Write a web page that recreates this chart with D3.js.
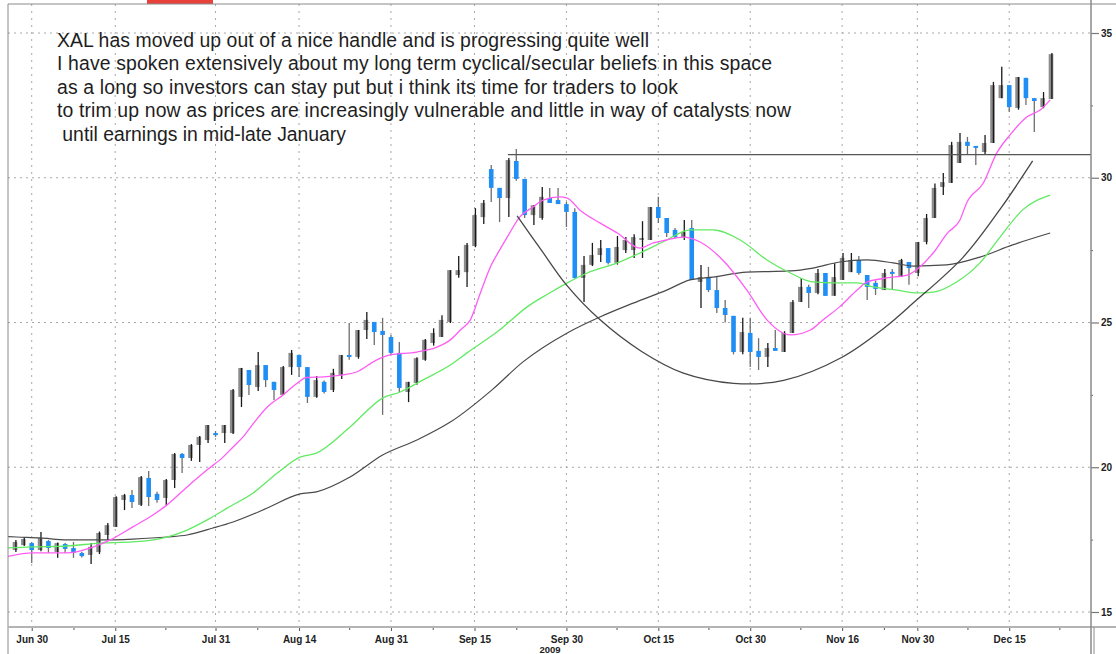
<!DOCTYPE html>
<html>
<head>
<meta charset="utf-8">
<script src="https://cdn.jsdelivr.net/npm/d3@7"></script>
<style>
  body { margin: 0; background: #fff; }
  svg { display: block; }
</style>
</head>
<body>
<div id="chart"></div>
<script>
// XAL daily candles, Jun 26 - Dec 22 2009 (index = trading day)
var opens = [17.14,17.31,17.38,17.14,17.45,17.07,17.35,17.21,17.04,16.97,
  17.07,17.66,17.94,18.87,19.04,18.70,19.63,19.08,18.94,19.56,
  20.46,20.32,20.77,20.94,21.18,21.18,21.18,22.43,23.36,22.77,
  23.53,22.95,22.50,23.46,23.88,23.46,22.43,22.95,22.67,23.19,
  23.88,23.81,24.74,25.02,24.71,24.50,23.95,22.60,22.91,23.71,
  24.29,24.50,25.02,26.64,26.74,27.64,28.64,30.30,29.65,29.30,
  30.58,29.96,28.71,28.61,29.30,29.23,29.09,28.82,26.54,26.99,
  27.33,27.57,27.06,27.50,27.50,27.85,27.85,28.99,28.61,28.20,
  27.95,28.26,26.40,26.57,26.12,25.50,25.23,23.98,24.64,24.02,
  23.81,24.12,23.98,24.64,25.71,26.23,26.02,26.71,25.92,26.47,
  26.74,27.16,26.64,26.37,26.12,26.75,26.57,27.09,26.71,27.78,
  28.61,29.68,29.82,30.51,31.24,31.10,30.89,31.20,32.75,33.20,
  32.41,33.45,32.75,32.44,32.72];
var highs = [17.49,17.59,17.42,17.76,17.49,17.40,17.38,17.42,17.08,17.38,
  17.78,18.07,19.00,19.08,19.21,19.70,19.87,19.15,19.59,20.49,
  20.49,20.80,21.08,21.46,21.25,21.46,22.70,23.43,23.36,23.98,
  23.53,22.95,23.50,24.05,23.88,23.46,23.15,23.00,23.40,23.88,
  24.98,24.74,25.36,25.02,25.16,24.57,24.33,22.95,23.80,24.43,
  24.80,25.25,26.81,27.30,27.75,28.95,29.23,30.44,29.65,30.68,
  30.99,29.96,29.05,29.68,29.65,29.65,29.16,28.95,27.30,27.75,
  27.85,27.57,27.99,27.95,28.05,28.50,28.99,29.34,28.61,28.26,
  28.54,28.54,26.99,26.92,26.57,25.78,25.23,25.16,25.16,24.46,
  24.29,24.74,24.70,25.78,26.54,26.30,26.85,26.71,27.05,27.40,
  27.40,27.30,26.64,26.45,26.85,26.85,27.20,27.09,27.78,28.75,
  29.80,30.16,31.24,31.55,31.41,31.10,31.48,33.31,33.83,33.20,
  33.48,33.45,32.75,32.96,34.31];
var lows = [17.07,17.28,16.69,17.10,17.04,16.87,17.04,16.87,16.88,16.66,
  17.00,17.49,17.94,18.52,18.59,18.66,18.66,18.77,18.70,19.28,
  19.80,20.22,20.18,20.84,21.05,20.84,21.15,22.08,22.50,22.63,
  22.77,22.32,22.50,23.19,23.12,22.22,22.40,22.55,22.60,23.05,
  23.71,23.75,24.43,24.22,21.81,23.88,22.60,22.25,22.85,23.68,
  24.20,24.50,24.98,26.55,26.23,27.60,28.40,29.16,28.47,28.64,
  29.90,28.61,28.37,28.55,29.13,29.09,28.30,26.50,25.71,26.95,
  27.09,27.00,27.00,27.40,27.23,27.23,27.85,28.44,27.95,27.90,
  27.85,26.47,25.50,26.05,25.33,25.00,23.90,23.90,23.46,23.36,
  23.46,24.02,23.98,24.64,25.71,25.50,25.98,25.92,25.92,26.47,
  26.74,26.65,25.78,25.95,26.12,26.16,26.57,26.30,26.60,27.70,
  28.61,29.40,29.82,30.51,30.79,30.44,30.79,31.20,32.75,32.27,
  32.35,32.51,31.58,32.40,32.72];
var closes = [17.42,17.52,17.14,17.56,17.21,17.38,17.18,17.04,16.93,17.25,
  17.73,18.00,18.97,19.04,18.80,19.66,18.97,18.87,19.56,20.46,
  20.32,20.77,21.05,21.46,21.11,21.46,22.67,23.43,22.84,23.53,
  23.01,22.67,23.46,23.95,23.46,22.43,23.01,22.60,23.26,23.88,
  23.81,24.74,25.09,24.67,24.57,23.95,22.74,22.95,23.77,24.40,
  24.64,25.09,26.81,26.81,27.68,28.71,29.13,29.65,29.30,30.61,
  29.96,28.71,29.05,29.34,29.13,29.09,28.82,26.54,26.99,27.33,
  27.57,27.06,27.61,27.85,27.95,27.92,28.99,28.61,28.09,27.95,
  28.13,26.47,26.57,26.12,25.50,25.26,23.98,24.67,23.98,23.81,
  24.12,24.02,24.64,25.71,26.23,26.02,26.71,25.92,26.57,27.23,
  27.16,26.71,26.23,26.16,26.71,26.68,27.16,26.88,27.78,28.61,
  29.65,29.85,31.13,31.24,31.10,31.03,31.20,33.20,33.20,32.44,
  33.48,32.75,32.65,32.75,34.27];

// moving averages: [trading day, price]
var maFast = [[-1.5,16.88],[2.2,17.04],[6.2,17.04],[9.0,17.21],[11.4,17.49],[14.1,17.94],
  [16.5,18.35],[18.2,18.70],[20.6,19.32],[23.0,19.91],[24.9,20.35],[26.1,20.70],
  [27.3,21.05],[28.5,21.50],[30.2,22.08],[32.1,22.50],[33.8,22.91],[34.9,23.10],
  [36.9,23.12],[39.3,23.19],[40.9,23.29],[43.3,23.71],[44.9,23.88],[48.1,23.98],
  [50.5,24.15],[52.1,24.40],[53.3,24.74],[54.5,25.09],[55.7,26.02],[56.9,26.92],
  [58.0,27.50],[59.2,28.09],[60.4,28.64],[62.0,28.99],[63.2,29.23],[65.2,29.34],
  [66.1,29.30],[67.6,28.89],[70.0,28.44],[72.1,28.09],[74.8,27.57],[76.4,27.75],
  [78.0,27.85],[80.0,27.95],[82.0,27.78],[84.7,27.16],[87.6,26.12],[90.0,25.09],
  [92.8,24.57],[95.2,24.74],[96.7,25.09],[98.7,25.54],[100.8,26.12],[102.0,26.40],
  [104.4,26.54],[106.8,26.64],[108.3,26.92],[109.9,27.40],[111.6,28.09],[113.1,28.54],
  [113.9,29.13],[115.9,29.82],[117.5,30.85],[119.1,31.48],[121.1,32.10],[122.7,32.34],
  [123.9,32.69]];
var maMid = [[-1.5,17.21],[2.2,17.25],[6.2,17.28],[10.2,17.38],[14.1,17.42],[18.2,17.59],
  [20.6,17.83],[23.0,18.18],[25.4,18.59],[28.5,19.11],[31.4,19.80],[34.1,20.35],
  [36.1,20.49],[40.1,21.39],[44.0,22.39],[46.1,22.60],[48.8,23.01],[52.1,23.53],
  [54.1,23.95],[58.0,24.74],[61.3,25.54],[64.0,26.02],[66.1,26.37],[68.5,26.71],
  [72.1,27.06],[74.8,27.40],[78.0,27.85],[80.8,28.20],[83.5,28.20],[86.8,27.85],
  [90.0,27.16],[92.8,26.71],[95.5,26.40],[97.9,26.37],[100.8,26.37],[102.7,26.23],
  [105.6,26.12],[108.0,26.02],[109.9,26.05],[112.7,26.40],[115.5,27.06],[117.9,27.95],
  [120.6,28.89],[123.9,29.40]];
var maSlow = [[-1.8,17.62],[0.2,17.59],[3.0,17.56],[6.2,17.49],[10.2,17.49],[14.1,17.52],
  [18.2,17.59],[20.6,17.66],[23.7,17.90],[26.1,18.11],[30.2,18.59],[34.1,19.08],
  [36.1,19.15],[40.1,19.66],[44.0,20.42],[48.1,20.94],[52.1,21.56],[57.2,22.70],
  [60.8,23.64],[66.1,24.64],[70.0,25.19],[74.0,25.67],[78.0,26.12],[80.8,26.47],
  [83.5,26.57],[87.6,26.74],[92.8,26.78],[95.5,26.88],[98.7,27.09],[102.0,27.16],
  [105.1,27.06],[107.5,26.95],[111.5,26.99],[115.5,27.26],[119.4,27.68],[123.9,28.09]];

// hand drawn cup and the handle's resistance level
var cup = [[60.1,28.68],[63,27.5],[66,26.3],[70,25.1],[75,24.0],[80,23.25],[86,22.9],
  [92,23.0],[99,23.8],[104,24.8],[107.5,25.67],[113.5,27.26],[118,28.95],[121.8,30.58]];
var resistance = {from: 59, price: 30.8};

var dateTicks = [2, 12, 24, 34, 45, 55, 66, 77, 88, 99, 108, 119];
var dateLabels = ["Jun 30", "Jul 15", "Jul 31", "Aug 14", "Aug 31", "Sep 15",
  "Sep 30", "Oct 15", "Oct 30", "Nov 16", "Nov 30", "Dec 15"];
var minorTicks = [7, 18, 29, 40, 50, 60, 72, 83, 94, 104, 114, 125];
var priceTicks = [15, 20, 25, 30, 35];
var minorPrice = [17.5, 22.5, 27.5, 32.5];

var noteLines = [
  "XAL has moved up out of a nice handle and is progressing quite well",
  "I have spoken extensively about my long term cyclical/secular beliefs in this space",
  "as a long so investors can stay put but i think its time for traders to look",
  "to trim up now as prices are increasingly vulnerable and little in way of catalysts now",
  " until earnings in mid-late January"
];

var svgWidth = 1116;
var svgHeight = 654;
var plot = { left: 8, right: 1091, top: 4, bottom: 627 };
// measured line widths of the note text in the original screenshot
var noteWidths = [592, 715, 621, 734, 289];

var svg = d3.select("#chart")
  .append("svg")
  .attr("width", svgWidth)
  .attr("height", svgHeight);

var x = d3.scaleLinear().domain([0, 124]).range([15, 1051]);
var y = d3.scaleLinear().domain([15, 35]).range([612, 33]);

svg.append("defs").append("clipPath")
  .attr("id", "clip")
  .append("rect")
  .attr("x", plot.left)
  .attr("y", plot.top)
  .attr("width", plot.right - plot.left)
  .attr("height", plot.bottom - plot.top);

// red tab at the top edge of the screenshot
svg.append("rect").attr("x", 147).attr("y", 0).attr("width", 66).attr("height", 4).attr("fill", "#e8413c");

// grid
var grid = svg.append("g");
grid.selectAll(".hgrid").data(priceTicks).enter().append("line")
  .attr("x1", plot.left).attr("x2", plot.right)
  .attr("y1", d => y(d)).attr("y2", d => y(d))
  .attr("stroke", "#a8a8a8").attr("stroke-width", 1)
  .attr("stroke-dasharray", "2,4");
grid.selectAll(".vgrid").data(dateTicks).enter().append("line")
  .attr("x1", d => x(d)).attr("x2", d => x(d))
  .attr("y1", plot.top).attr("y2", plot.bottom)
  .attr("stroke", "#a8a8a8").attr("stroke-width", 1)
  .attr("stroke-dasharray", "2,5");

// note text
svg.append("g").selectAll("text").data(noteLines).enter().append("text")
  .attr("x", 57)
  .attr("y", (d, i) => 46.5 + i * 23.6)
  .attr("xml:space", "preserve")
  .attr("textLength", (d, i) => noteWidths[i])
  .attr("lengthAdjust", "spacing")
  .attr("font-family", "Liberation Sans, Arial, sans-serif")
  .attr("font-size", "19.4px")
  .attr("fill", "#1e1e1e")
  .text(d => d);

var candles = opens.map(function(o, i) {
  return { i: i, o: o, h: highs[i], l: lows[i], c: closes[i], up: closes[i] >= o };
});

var chartGroup = svg.append("g").attr("clip-path", "url(#clip)");

// blue (down) wicks sit under the body, dark wicks over gray bodies
chartGroup.selectAll(".wickDown").data(candles.filter(d => !d.up)).enter().append("line")
  .attr("x1", d => x(d.i)).attr("x2", d => x(d.i))
  .attr("y1", d => y(d.h)).attr("y2", d => y(d.l))
  .attr("stroke", "#6e6e6e").attr("stroke-width", 1.3);

chartGroup.selectAll(".body").data(candles).enter().append("rect")
  .attr("x", d => x(d.i) - 2.3)
  .attr("width", 4.6)
  .attr("y", d => y(Math.max(d.o, d.c)))
  .attr("height", d => Math.max(1.6, Math.abs(y(d.o) - y(d.c))))
  .attr("fill", d => d.up ? "#8c8c8c" : "#1f8ef5");

chartGroup.selectAll(".wickUp").data(candles.filter(d => d.up)).enter().append("line")
  .attr("x1", d => x(d.i) + 0.9).attr("x2", d => x(d.i) + 0.9)
  .attr("y1", d => y(d.h)).attr("y2", d => y(d.l))
  .attr("stroke", "#1a1a1a").attr("stroke-width", 1.3);

// moving averages
var maLine = d3.line()
  .x(d => x(d[0]))
  .y(d => y(d[1]))
  .curve(d3.curveMonotoneX);

chartGroup.append("path").datum(maSlow).attr("d", maLine)
  .attr("fill", "none").attr("stroke", "#4a4a4a").attr("stroke-width", 1.2);
chartGroup.append("path").datum(maMid).attr("d", maLine)
  .attr("fill", "none").attr("stroke", "#62ea62").attr("stroke-width", 1.3);
chartGroup.append("path").datum(maFast).attr("d", maLine)
  .attr("fill", "none").attr("stroke", "#ff5cf4").attr("stroke-width", 1.3);

// cup and handle lines
chartGroup.append("path").datum(cup)
  .attr("d", d3.line().x(d => x(d[0])).y(d => y(d[1])).curve(d3.curveCatmullRom))
  .attr("fill", "none").attr("stroke", "#474747").attr("stroke-width", 1.3);

chartGroup.append("line")
  .attr("x1", x(resistance.from)).attr("x2", plot.right)
  .attr("y1", y(resistance.price)).attr("y2", y(resistance.price))
  .attr("stroke", "#555").attr("stroke-width", 1.4);

// frame lines
svg.append("line").attr("x1", plot.left).attr("x2", svgWidth).attr("y1", plot.top).attr("y2", plot.top)
  .attr("stroke", "#8a8a8a").attr("stroke-width", 1);
svg.append("line").attr("x1", plot.left).attr("x2", plot.left).attr("y1", plot.top).attr("y2", svgHeight)
  .attr("stroke", "#8a8a8a").attr("stroke-width", 1);
svg.append("line").attr("x1", plot.left).attr("x2", svgWidth).attr("y1", plot.bottom).attr("y2", plot.bottom)
  .attr("stroke", "#b4b4b4").attr("stroke-width", 2);
svg.append("line").attr("x1", plot.right + 3).attr("x2", plot.right + 3).attr("y1", plot.bottom).attr("y2", svgHeight)
  .attr("stroke", "#8a8a8a").attr("stroke-width", 1);

// bottom axis
var bottomAxis = d3.axisBottom(x)
  .tickValues(dateTicks)
  .tickFormat((d, i) => dateLabels[i])
  .tickSize(3)
  .tickPadding(5);

var xAxis = svg.append("g")
  .attr("transform", `translate(0, ${plot.bottom + 1})`)
  .call(bottomAxis);
xAxis.select(".domain").remove();
xAxis.selectAll("line").attr("stroke", "#555");
xAxis.selectAll("text")
  .attr("font-family", "Liberation Sans, Arial, sans-serif")
  .attr("font-size", "10px")
  .attr("font-weight", "bold")
  .attr("fill", "#222");

var xMinor = svg.append("g")
  .attr("transform", `translate(0, ${plot.bottom + 1})`)
  .call(d3.axisBottom(x).tickValues(minorTicks).tickFormat("").tickSize(2));
xMinor.select(".domain").remove();
xMinor.selectAll("line").attr("stroke", "#555");

svg.append("text")
  .attr("x", 550).attr("y", 653)
  .attr("text-anchor", "middle")
  .attr("font-family", "Liberation Sans, Arial, sans-serif")
  .attr("font-size", "9.5px")
  .attr("font-weight", "bold")
  .attr("fill", "#222")
  .text("2009");

// right price axis
var rightAxis = d3.axisRight(y)
  .tickValues(priceTicks)
  .tickFormat(d3.format("d"))
  .tickSize(8)
  .tickPadding(2);

var yAxis = svg.append("g")
  .attr("transform", `translate(${plot.right}, 0)`)
  .call(rightAxis);
yAxis.select(".domain").remove();
yAxis.selectAll("line").attr("stroke", "#777").attr("stroke-width", 1.2);
yAxis.selectAll("text")
  .attr("font-family", "Liberation Sans, Arial, sans-serif")
  .attr("font-size", "10px")
  .attr("font-weight", "bold")
  .attr("fill", "#222");

var yMinor = svg.append("g")
  .attr("transform", `translate(${plot.right}, 0)`)
  .call(d3.axisRight(y).tickValues(minorPrice).tickFormat("").tickSize(2));
yMinor.select(".domain").remove();
yMinor.selectAll("line").attr("stroke", "#666");

svg.append("line").attr("x1", plot.right).attr("x2", plot.right).attr("y1", 0).attr("y2", svgHeight)
  .attr("stroke", "#8a8a8a").attr("stroke-width", 1.5);
</script>
</body>
</html>
